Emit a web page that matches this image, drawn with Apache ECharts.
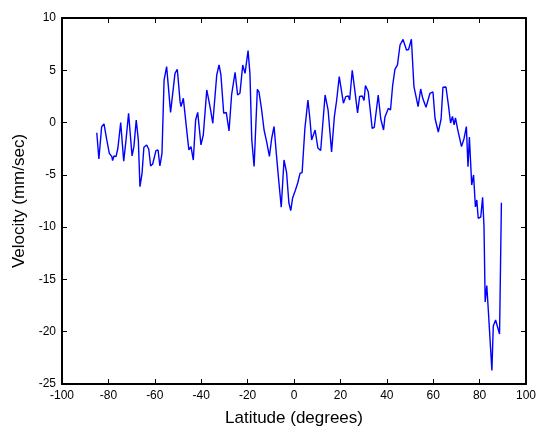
<!DOCTYPE html>
<html>
<head>
<meta charset="utf-8">
<script src="https://cdn.jsdelivr.net/npm/echarts@6/dist/echarts.min.js"></script>
<style>
  html, body { margin: 0; padding: 0; background: #fff; }
  #chart { width: 536px; height: 427px; }
</style>
</head>
<body>
<div id="chart"></div>
<script>
// latitude (degrees) and velocity (mm/sec)
const latitude = [
  -85.0, -84.1, -82.9, -81.9, -80.7, -79.6, -78.5, -78.2, -77.6, -76.7,
  -75.9, -74.7, -73.4, -72.4, -71.3, -69.8, -69.0, -68.0, -67.1, -66.4,
  -65.5, -64.7, -63.5, -62.6, -61.8, -60.9, -59.5, -58.6, -57.8, -56.9,
  -56.0, -54.9, -53.2, -51.3, -50.3, -49.1, -48.7, -47.7, -47.0, -45.8,
  -45.3, -44.4, -43.4, -42.4, -41.5, -40.1, -39.1, -37.6, -36.9, -36.2,
  -35.0, -33.3, -32.3, -31.5, -30.3, -29.2, -28.0, -26.9, -25.4, -24.3,
  -23.3, -22.1, -21.1, -20.7, -19.8, -19.0, -18.2, -17.2, -15.8, -15.1,
  -14.0, -12.9, -11.8, -10.6, -9.6, -8.6, -7.5, -6.6, -5.5, -4.3,
  -3.2, -2.2, -1.4, -0.6, 0.6, 1.6, 2.6, 3.5, 4.7, 6.0,
  6.9, 7.6, 9.1, 10.3, 11.5, 13.4, 14.7, 16.2, 17.4, 18.4,
  19.5, 21.3, 22.3, 23.4, 24.0, 25.1, 26.3, 27.4, 28.3, 29.4,
  30.2, 30.8, 32.0, 33.7, 34.6, 36.3, 37.4, 38.6, 39.2, 40.7,
  41.6, 42.5, 43.5, 44.6, 45.7, 47.0, 47.8, 48.5, 49.4, 50.6,
  51.7, 53.5, 54.6, 55.5, 56.9, 58.6, 59.9, 60.8, 62.2, 63.4,
  64.2, 65.5, 66.6, 67.5, 68.3, 69.0, 69.6, 70.5, 72.2, 73.3,
  74.3, 75.0, 75.6, 76.6, 77.4, 78.2, 78.8, 79.4, 80.5, 81.3,
  81.9, 82.4, 83.1, 83.8, 85.3, 85.9, 86.9, 87.7, 88.6, 89.4
];
const velocity = [
  -0.97, -3.48, -0.39, -0.13, -1.66, -2.94, -3.26, -3.64, -3.19, -3.26,
  -2.43, -0.01, -3.70, -1.66, 0.89, -3.19, -2.30, 0.25, -1.66, -6.13,
  -4.85, -2.36, -2.14, -2.55, -4.15, -3.96, -2.69, -2.62, -4.15, -2.94,
  4.07, 5.35, 0.97, 4.71, 5.10, 2.00, 1.52, 2.32, 2.16, -1.66,
  -2.62, -2.30, -3.58, 0.25, 0.98, -2.14, -1.19, 3.12, 3.28, 1.52,
  -0.07, 4.55, 5.51, 4.55, 0.89, 0.98, -0.80, 2.64, 4.81, 2.64,
  2.80, 5.51, 4.71, 4.65, 6.88, 4.71, -1.66, -4.20, 3.18, 2.93,
  1.30, -0.71, -1.83, -3.24, -1.50, -0.37, -3.26, -5.49, -8.10, -3.58,
  -4.77, -7.69, -8.42, -7.21, -6.47, -5.78, -4.85, -4.79, -0.55, 2.16,
  0.25, -1.66, -0.71, -2.43, -2.67, 2.64, 1.20, -2.81, 0.56, 2.16,
  4.39, 1.85, 2.48, 2.54, 2.16, 5.00, 2.93, 0.92, 2.50, 2.54,
  2.11, 3.55, 2.95, -0.55, -0.45, 2.64, 0.34, -0.71, 0.54, 1.37,
  1.20, 3.50, 5.08, 5.51, 7.42, 7.95, 7.95, 6.94, 6.99, 7.97,
  3.43, 1.52, 3.21, 2.32, 1.46, 2.80, 2.93, 0.39, -0.90, 0.34,
  3.38, 3.40, 1.59, -0.04, 0.58, -0.23, 0.44, -0.61, -2.30, -1.52,
  -0.39, -4.22, -1.38, -5.97, -5.01, -8.07, -7.40, -9.15, -9.03, -7.14,
  -9.95, -17.16, -15.58, -18.11, -23.71, -19.45, -18.88, -18.83, -20.22, -7.66
];

const chart = echarts.init(document.getElementById('chart'));

const font = 'Liberation Sans, Arial, sans-serif';
const axisLine = { show: true, onZero: false, lineStyle: { color: '#000', width: 2 } };
const tick = { show: true, inside: true, length: 5, lineStyle: { color: '#000', width: 1 } };

const option = {
  animation: false,
  backgroundColor: '#fff',
  grid: { left: 62, right: 10, top: 18, bottom: 43, outerBoundsMode: 'none', containLabel: false },
  xAxis: [
    {
      type: 'value', min: -100, max: 100, interval: 20,
      name: 'Latitude (degrees)', nameLocation: 'middle', nameGap: 26,
      nameTextStyle: { fontFamily: font, fontSize: 17, color: '#000' },
      axisLine: axisLine, axisTick: tick,
      axisLabel: { fontFamily: font, fontSize: 12, color: '#000', margin: 6 },
      splitLine: { show: false }
    },
    {
      type: 'value', min: -100, max: 100, interval: 20, position: 'top',
      axisLine: axisLine, axisTick: tick,
      axisLabel: { show: false }, splitLine: { show: false }
    }
  ],
  yAxis: [
    {
      type: 'value', min: -25, max: 10, interval: 5,
      name: 'Velocity (mm/sec)', nameLocation: 'middle', nameGap: 34,
      nameTextStyle: { fontFamily: font, fontSize: 17, color: '#000' },
      axisLine: axisLine, axisTick: tick,
      axisLabel: { fontFamily: font, fontSize: 12, color: '#000', margin: 6 },
      splitLine: { show: false }
    },
    {
      type: 'value', min: -25, max: 10, interval: 5, position: 'right',
      axisLine: axisLine, axisTick: tick,
      axisLabel: { show: false }, splitLine: { show: false }
    }
  ],
  series: [{
    type: 'line',
    data: latitude.map((lat, i) => [lat, velocity[i]]),
    showSymbol: false,
    lineStyle: { color: '#0000ff', width: 1.4 },
    itemStyle: { color: '#0000ff' }
  }]
};

chart.setOption(option);
</script>
</body>
</html>
